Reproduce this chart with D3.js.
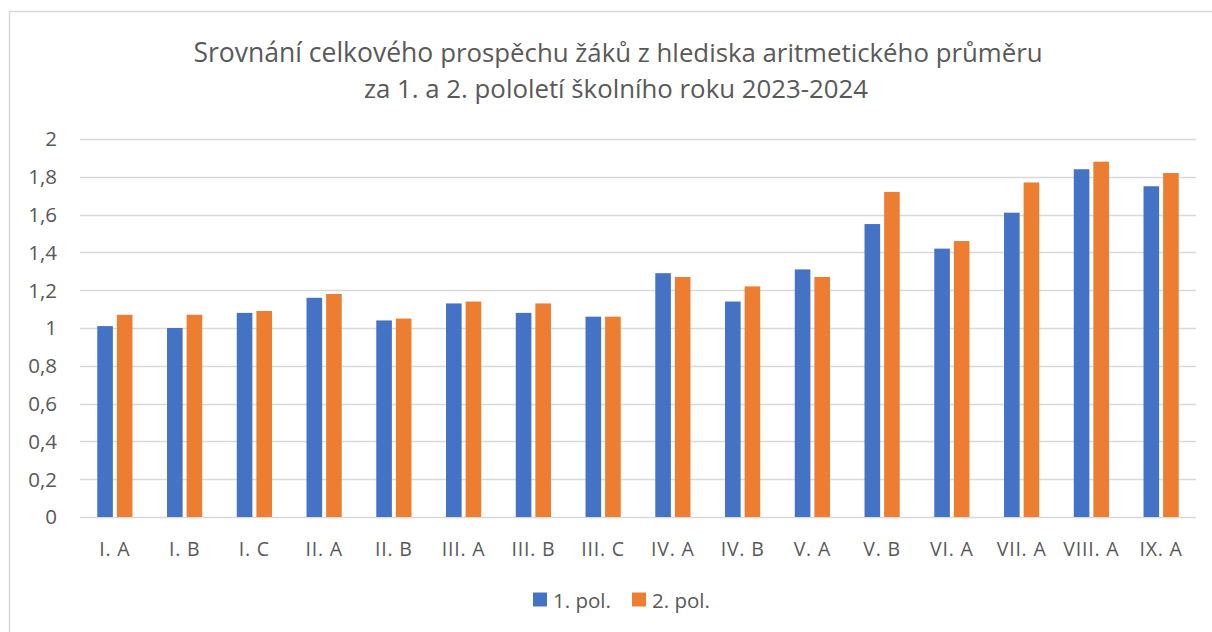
<!DOCTYPE html>
<html>
<head>
<meta charset="utf-8">
<script src="https://cdn.jsdelivr.net/npm/d3@7"></script>
<style>
  html, body { margin: 0; background: #fff; overflow: hidden; }
  svg { display: block; font-family: "Open Sans", Lato, sans-serif; }
</style>
</head>
<body>
<div id="vis"></div>
<script>
const categories = ["I. A", "I. B", "I. C", "II. A", "II. B", "III. A", "III. B", "III. C",
  "IV. A", "IV. B", "V. A", "V. B", "VI. A", "VII. A", "VIII. A", "IX. A"];
const pol1 = [1.01, 1.00, 1.08, 1.16, 1.04, 1.13, 1.08, 1.06, 1.29, 1.14, 1.31, 1.55, 1.42, 1.61, 1.84, 1.75];
const pol2 = [1.07, 1.07, 1.09, 1.18, 1.05, 1.14, 1.13, 1.06, 1.27, 1.22, 1.27, 1.72, 1.46, 1.77, 1.88, 1.82];
const seriesNames = ["1. pol.", "2. pol."];
const yTicks = [0, 0.2, 0.4, 0.6, 0.8, 1, 1.2, 1.4, 1.6, 1.8, 2];

const colors = ["#4472C4", "#ED7D31"];
const textColor = "#595959";

const width = 1212, height = 632;
const margin = { top: 139, right: 16, bottom: 115, left: 80 };

const svg = d3.select("#vis").append("svg")
  .attr("width", width)
  .attr("height", height);

// chart frame (right/bottom edges run off the picture)
svg.append("path")
  .attr("d", "M9.5,640V11.5H1230")
  .attr("fill", "none")
  .attr("stroke", "#D9D9D9")
  .attr("stroke-width", 1.5);

// title
const title = svg.append("text")
  .attr("text-anchor", "middle")
  .attr("fill", textColor);
const l1 = title.append("tspan").attr("x", 618).attr("y", 62);
l1.append("tspan").attr("font-size", 26.5).text("Srovnání celkového ");
l1.append("tspan").attr("font-size", 25.8).text("prospěchu žáků z hlediska aritmetického průměru");
title.append("tspan").attr("x", 616).attr("y", 98).attr("font-size", 25.8)
  .text("za 1. a 2. pololetí školního roku 2023-2024");

const x = d3.scaleBand()
  .domain(categories)
  .range([margin.left, width - margin.right]);

const y = d3.scaleLinear()
  .domain([0, 2])
  .range([height - margin.bottom, margin.top]);

// gridlines
svg.append("g")
  .selectAll("line")
  .data(yTicks)
  .join("line")
  .attr("x1", margin.left)
  .attr("x2", width - margin.right)
  .attr("y1", d => Math.round(y(d)) + 0.5)
  .attr("y2", d => Math.round(y(d)) + 0.5)
  .attr("stroke", "#D9D9D9")
  .attr("stroke-width", 1.5);

// y tick labels
const fmt = d => String(+d.toFixed(1)).replace(".", ",");
svg.append("g")
  .selectAll("text")
  .data(yTicks)
  .join("text")
  .attr("x", 57)
  .attr("y", d => y(d))
  .attr("dy", "0.36em")
  .attr("text-anchor", "end")
  .attr("font-size", 20.5)
  .attr("fill", textColor)
  .text(fmt);

// bars
const barW = 15.6, barGap = 4;
const series = [pol1, pol2];
series.forEach((vals, si) => {
  svg.append("g")
    .selectAll("rect")
    .data(vals)
    .join("rect")
    .attr("x", (d, i) => x(categories[i]) + x.bandwidth() / 2 + (si === 0 ? -barGap / 2 - barW : barGap / 2))
    .attr("y", d => y(d))
    .attr("width", barW)
    .attr("height", d => y(0) - y(d))
    .attr("fill", colors[si]);
});

// x labels
svg.append("g")
  .selectAll("text")
  .data(categories)
  .join("text")
  .attr("x", d => x(d) + x.bandwidth() / 2)
  .attr("y", 556)
  .attr("text-anchor", "middle")
  .attr("font-size", 19.5)
  .attr("letter-spacing", 0.8)
  .attr("fill", textColor)
  .text(d => d);

// legend
const legendX = [533, 632];
const legend = svg.append("g");
seriesNames.forEach((name, i) => {
  legend.append("rect")
    .attr("x", legendX[i]).attr("y", 592.5)
    .attr("width", 14).attr("height", 14)
    .attr("fill", colors[i]);
  legend.append("text")
    .attr("x", legendX[i] + 20).attr("y", 607.5)
    .attr("font-size", 20.5)
    .attr("fill", textColor)
    .text(name);
});
</script>
</body>
</html>
